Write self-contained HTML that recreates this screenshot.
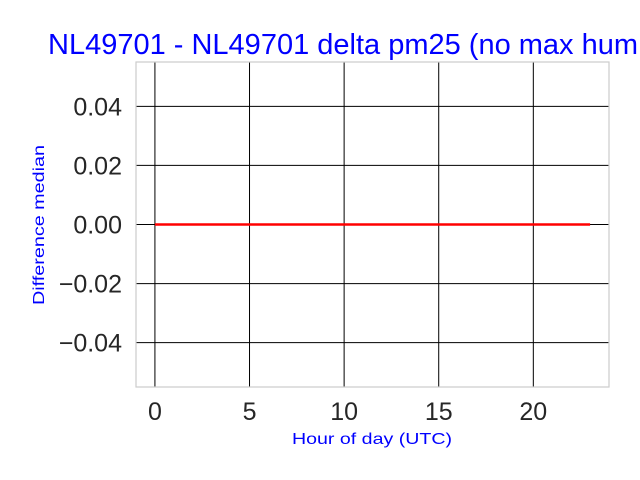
<!DOCTYPE html>
<html><head><meta charset="utf-8"><style>
body{margin:0;background:#fff;}
svg{display:block;font-family:"Liberation Sans","DejaVu Sans",sans-serif;}
</style></head><body>
<svg id="chart" width="640" height="480" viewBox="0 0 640 480" xmlns="http://www.w3.org/2000/svg">
<rect x="0" y="0" width="640" height="480" fill="#fff"/>
<text x="48" y="54" font-size="29" fill="#0000ff">NL49701 - NL49701 delta pm25 (no max hum</text>
<g id="grid"></g>
<rect x="136" y="62" width="473" height="325" fill="none" stroke="#cccccc" stroke-width="1.2"/>
<g id="marks"></g>
<text x="372" y="444" font-size="16" fill="#0000ff" text-anchor="middle" textLength="160" lengthAdjust="spacingAndGlyphs">Hour of day (UTC)</text>
<text transform="translate(44,225) rotate(-90)" font-size="16" fill="#0000ff" text-anchor="middle" textLength="160" lengthAdjust="spacingAndGlyphs">Difference median</text>
</svg>
<script>
const hours = [0,1,2,3,4,5,6,7,8,9,10,11,12,13,14,15,16,17,18,19,20,21,22,23];
const medians = [0,0,0,0,0,0,0,0,0,0,0,0,0,0,0,0,0,0,0,0,0,0,0,0];
const xTicks = [0,5,10,15,20];
const yTicks = [-0.04,-0.02,0.00,0.02,0.04];
const yTickLabels = ["\u22120.04","\u22120.02","0.00","0.02","0.04"];

const L=136,R=609,T=62,B=387;
const xMin=-1.0,xMax=24.0,yMin=-0.055,yMax=0.055;
const xs=v=>L+(v-xMin)/(xMax-xMin)*(R-L);
const ys=v=>B-(v-yMin)/(yMax-yMin)*(B-T);
const NS="http://www.w3.org/2000/svg";
const grid=document.getElementById('grid');
const marks=document.getElementById('marks');
function mk(tag,attrs,parent){const e=document.createElementNS(NS,tag);for(const k in attrs)e.setAttribute(k,attrs[k]);parent.appendChild(e);return e;}
xTicks.forEach(t=>{
  const l=mk('line',{x1:xs(t),x2:xs(t),y1:T,y2:B,stroke:'#000','stroke-width':1},grid);
  
  
  const tx=mk('text',{x:xs(t),y:420,'font-size':25,fill:'#262626','text-anchor':'middle'},grid);
  tx.textContent=String(t);
  
  
});
yTicks.forEach((t,i)=>{
  const l=mk('line',{x1:L,x2:R,y1:ys(t),y2:ys(t),stroke:'#000','stroke-width':1},grid);
  
  
  const tx=mk('text',{x:122,y:ys(t)+9,'font-size':25,fill:'#262626','text-anchor':'end'},grid);
  tx.textContent=yTickLabels[i];
  
  
});
const pts=hours.map((h,i)=>xs(h)+','+ys(medians[i])).join(' ');
const pl=mk('polyline',{points:pts,fill:'none',stroke:'#ff0000','stroke-width':2.5},marks);


</script>
</body></html>
